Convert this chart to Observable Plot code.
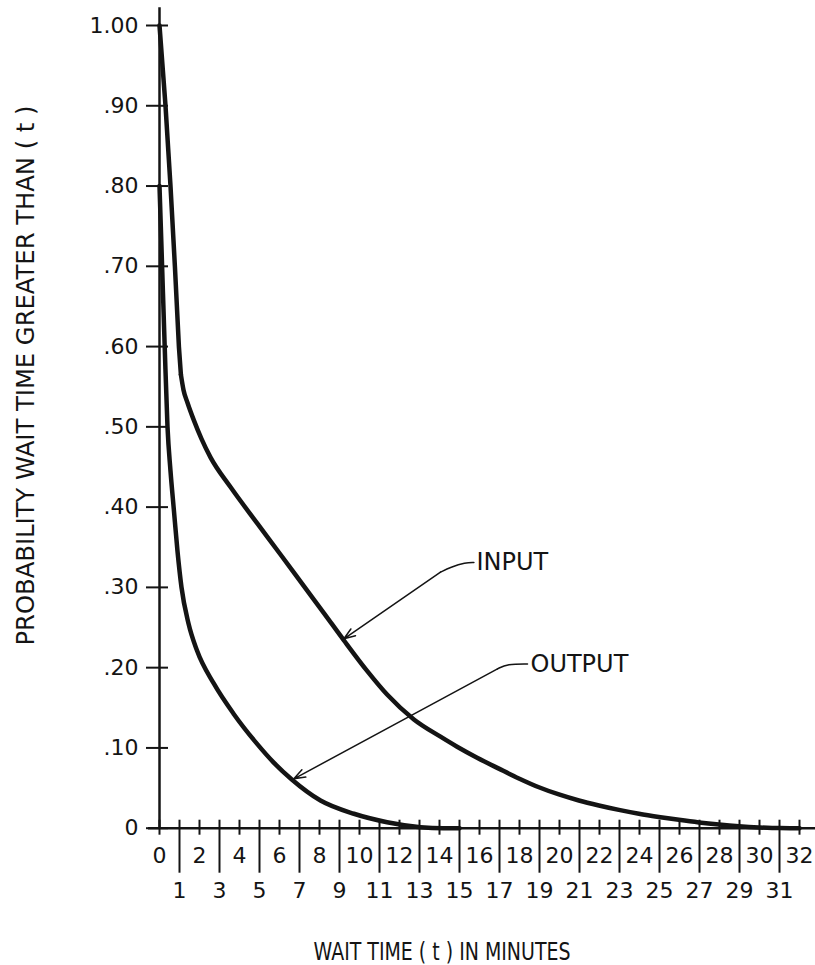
<!DOCTYPE html>
<html>
<head>
<meta charset="utf-8">
<script src="https://cdn.jsdelivr.net/npm/d3@7"></script>
<script src="https://cdn.jsdelivr.net/npm/@observablehq/plot@0.6"></script>
<style>
  html, body { margin: 0; padding: 0; background: #fff; }
  #chart { width: 815px; height: 965px; }
</style>
</head>
<body>
<div id="chart"></div>
<script>
// ---- data ----
// INPUT: straight drop from 1.00 to the knee, then a smooth decay
const inputT = [0, 0.3, 0.55, 0.77, 0.97, 1.07, 1.2, 1.4, 1.72, 2.1, 2.55, 3.55, 4.88, 6.05, 7.22, 8.22, 9.22, 10.38, 11.38, 12.72, 14.05, 14.88, 15.88, 16.97, 17.97, 18.97, 19.97, 20.97, 21.97, 22.97, 23.97, 25.05, 25.97, 26.97, 27.97, 28.97, 29.97, 31, 32];
const inputP = [1.00, 0.90, 0.80, 0.70, 0.60, 0.565, 0.546, 0.53, 0.508, 0.485, 0.462, 0.425, 0.380, 0.341, 0.3015, 0.268, 0.234, 0.196, 0.1665, 0.1355, 0.114, 0.1015, 0.0878, 0.0742, 0.062, 0.051, 0.042, 0.0345, 0.0283, 0.0228, 0.018, 0.0137, 0.0104, 0.0072, 0.0046, 0.0025, 0.001, 0.0001, 0];
const inputKneeT = 1.07;

const outputT = [0, 0.13, 0.26, 0.4, 0.55, 0.72, 0.9, 1.1, 1.45, 1.88, 2.72, 3.72, 4.88, 5.7, 6.6, 8.05, 9.72, 11.38, 13.05, 14.2, 15];
const outputP = [0.80, 0.70, 0.60, 0.50, 0.445, 0.396, 0.345, 0.30, 0.255, 0.221, 0.180, 0.142, 0.105, 0.082, 0.061, 0.0345, 0.018, 0.0075, 0.0013, 0, 0];

const yTicks = [0, 0.1, 0.2, 0.3, 0.4, 0.5, 0.6, 0.7, 0.8, 0.9, 1.0];
const yTickLabels = ["0", ".10", ".20", ".30", ".40", ".50", ".60", ".70", ".80", ".90", "1.00"];
const xEvenTicks = [0, 2, 4, 6, 8, 10, 12, 14, 16, 18, 20, 22, 24, 26, 28, 30, 32];
const xOddTicks = [1, 3, 5, 7, 9, 11, 13, 15, 17, 19, 21, 23, 25, 27, 29, 31];

const seriesLabels = ["INPUT", "OUTPUT"];
// leader lines (annotation anchor points in data units: t, p)
const inputLeaderT = [14.05, 14.55, 15.3, 15.72];
const inputLeaderP = [0.319, 0.325, 0.331, 0.331];
const inputArrowTip = [9.22, 0.236];
const outputLeaderT = [16.9, 17.39, 18.4];
const outputLeaderP = [0.1985, 0.2047, 0.2047];
const outputArrowTip = [6.72, 0.0615];
const labelT = [15.85, 18.55];
const labelP = [0.331, 0.2047];

const xTitle = "WAIT TIME ( t ) IN MINUTES";
const yTitle = "PROBABILITY WAIT TIME GREATER THAN ( t )";

// ---- build tables ----
const inputData = inputT.map((t, i) => ({t, p: inputP[i]}));
const inputDrop = inputData.filter(d => d.t <= inputKneeT);
const inputTail = inputData.filter(d => d.t >= inputKneeT);
const outputData = outputT.map((t, i) => ({t, p: outputP[i]}));
const inputLeader = inputLeaderT.map((t, i) => ({t, p: inputLeaderP[i]}));
const outputLeader = outputLeaderT.map((t, i) => ({t, p: outputLeaderP[i]}));
const arrows = [
  {x1: inputLeaderT[0], y1: inputLeaderP[0], x2: inputArrowTip[0], y2: inputArrowTip[1]},
  {x1: outputLeaderT[0], y1: outputLeaderP[0], x2: outputArrowTip[0], y2: outputArrowTip[1]}
];
const labels = seriesLabels.map((s, i) => ({s, t: labelT[i], p: labelP[i]}));
const yLabelMap = new Map(yTicks.map((v, i) => [v, yTickLabels[i]]));

const ink = "#141414";

const chart = Plot.plot({
  width: 815,
  height: 965,
  marginLeft: 159,
  marginRight: 16,
  marginTop: 25,
  marginBottom: 137.3,
  x: {domain: [0, 32]},
  y: {domain: [0, 1]},
  style: {fontFamily: "DejaVu Sans", fontSize: "21px", background: "#fff", color: ink},
  marks: [
    // axis lines
    Plot.ruleY([0], {x1: -0.55, x2: 32.8, stroke: ink, strokeWidth: 2.5}),
    Plot.ruleX([0], {y1: 0, y2: 1.022, stroke: ink, strokeWidth: 2.5}),
    // y axis ticks + labels
    Plot.axisY(yTicks, {tickSize: 22, dx: 9, tickPadding: 8, strokeWidth: 2, tickFormat: d => yLabelMap.get(d), fontSize: 22, label: null}),
    // x axis: short even ticks, long odd ticks
    Plot.axisX(xEvenTicks, {tickSize: 15, dy: -8, tickPadding: 12, strokeWidth: 2, tickFormat: d => String(d), fontSize: 22, label: null}),
    Plot.axisX(xOddTicks, {tickSize: 53, dy: -8, tickPadding: 9, strokeWidth: 2, tickFormat: d => String(d), fontSize: 22, label: null}),
    // curves
    Plot.line(inputDrop, {x: "t", y: "p", curve: "linear", stroke: ink, strokeWidth: 4.5, strokeLinejoin: "round", strokeLinecap: "round"}),
    Plot.line(inputTail, {x: "t", y: "p", curve: "monotone-x", stroke: ink, strokeWidth: 4.5, strokeLinecap: "round"}),
    Plot.line(outputData, {x: "t", y: "p", curve: "monotone-x", stroke: ink, strokeWidth: 4.5}),
    // leaders
    Plot.line(inputLeader, {x: "t", y: "p", curve: "basis", stroke: ink, strokeWidth: 1.5}),
    Plot.line(outputLeader, {x: "t", y: "p", curve: "basis", stroke: ink, strokeWidth: 1.5}),
    Plot.arrow(arrows, {x1: "x1", y1: "y1", x2: "x2", y2: "y2", stroke: ink, strokeWidth: 1.5, headLength: 12, headAngle: 40}),
    Plot.text(labels, {x: "t", y: "p", text: "s", textAnchor: "start", lineAnchor: "middle", fontSize: 24, fill: ink}),
    // axis titles
    Plot.text([xTitle], {frameAnchor: "bottom", text: d => d, dx: -37.5, dy: 131.3, lineAnchor: "bottom", textAnchor: "middle", fontSize: 24, fill: ink}),
    Plot.text([yTitle], {frameAnchor: "left", text: d => d, rotate: -90, dx: -126, dy: -51.35, lineAnchor: "bottom", textAnchor: "middle", fontSize: 24, fill: ink})
  ]
});

document.getElementById("chart").appendChild(chart);

// fit titles to the widths they occupy in the reference
d3.select(chart).selectAll("text").each(function() {
  const s = this.textContent;
  if (s === xTitle) d3.select(this).attr("textLength", 257).attr("lengthAdjust", "spacingAndGlyphs");
  if (s === yTitle) d3.select(this).attr("textLength", 540).attr("lengthAdjust", "spacingAndGlyphs");
});
</script>
</body>
</html>
